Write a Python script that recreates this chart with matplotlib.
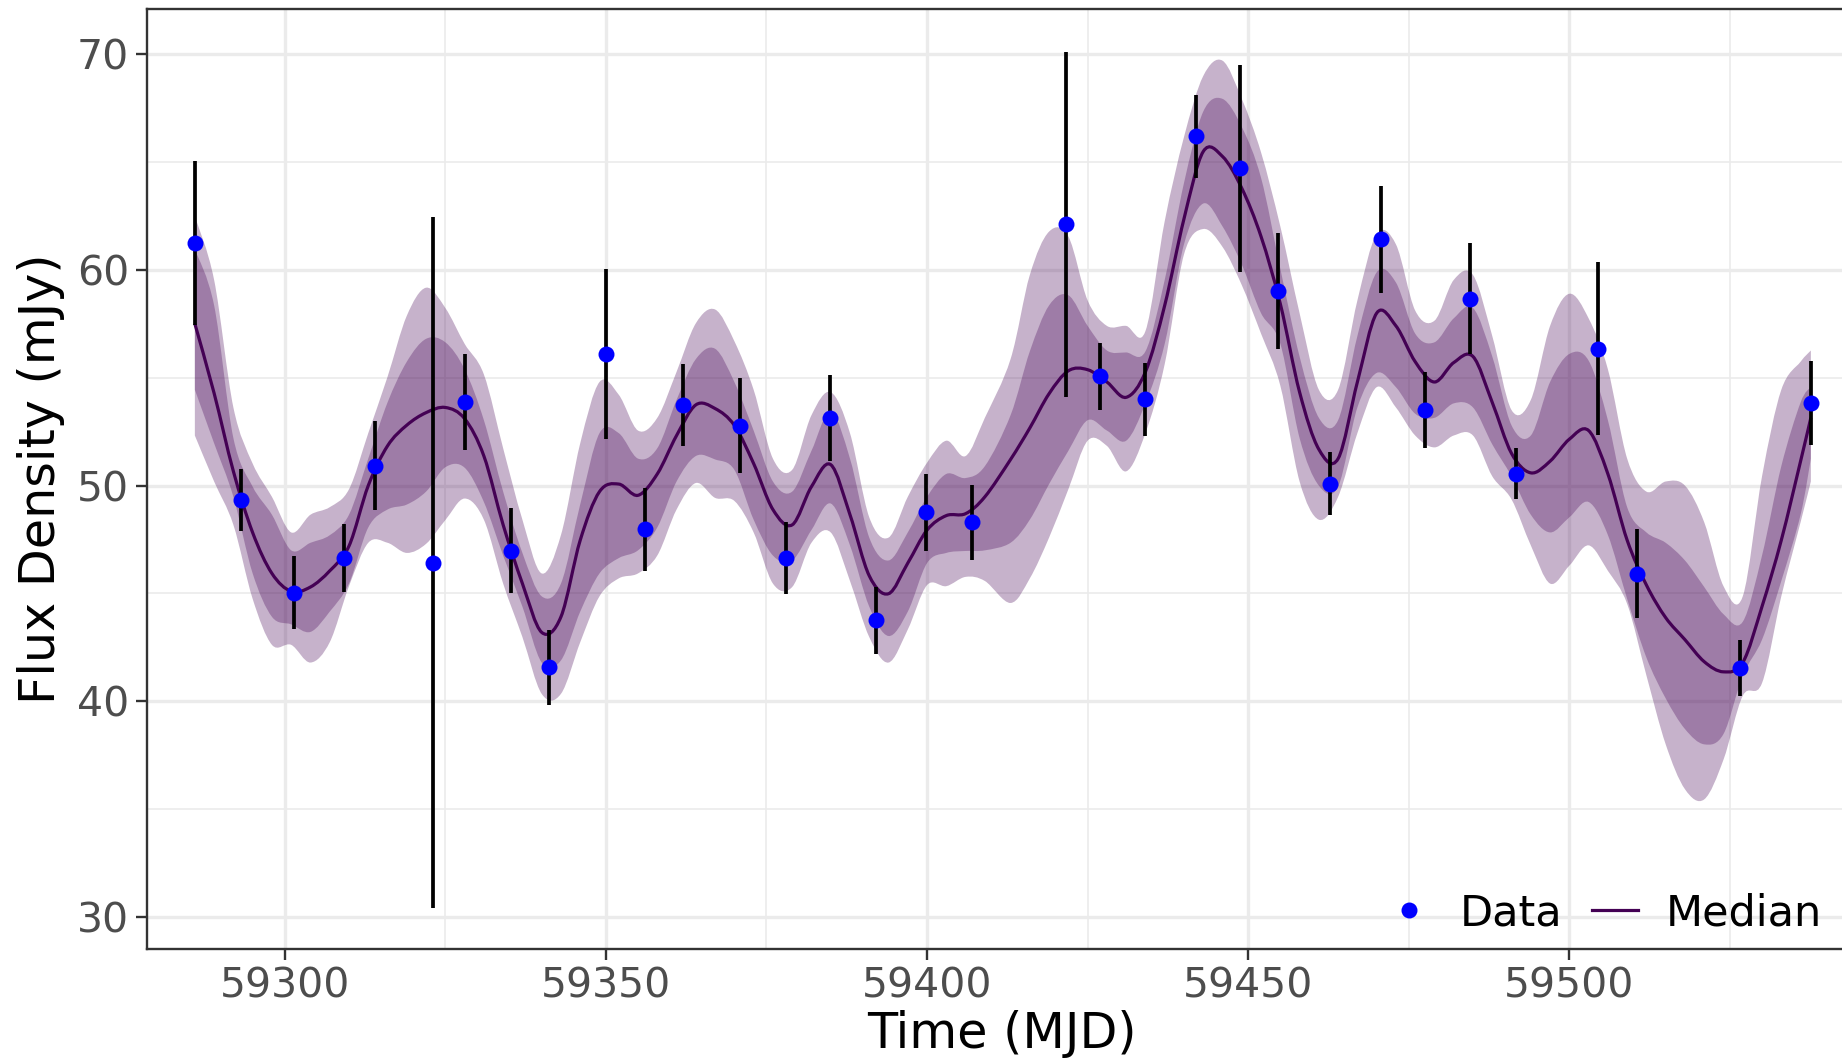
import matplotlib
matplotlib.use("Agg")
import matplotlib.pyplot as plt
from matplotlib.lines import Line2D
from matplotlib.path import Path
from matplotlib.patches import PathPatch
from matplotlib.ticker import MultipleLocator

# ---------------- data ----------------
obs_mjd = [59286.1, 59293.2, 59301.4, 59309.2, 59314.1, 59323.1, 59328.1, 59335.2,
           59341.2, 59350.0, 59356.1, 59362.0, 59370.9, 59378.0, 59384.9, 59392.1,
           59399.9, 59407.0, 59421.7, 59426.9, 59433.9, 59441.9, 59448.7, 59454.7,
           59462.7, 59470.6, 59477.6, 59484.5, 59491.7, 59504.5, 59510.5, 59526.6,
           59537.6]
obs_flux = [61.25, 49.33, 45.04, 46.64, 50.93, 46.43, 53.86, 46.99,
            41.58, 56.10, 47.98, 53.72, 52.78, 46.64, 53.13, 43.76,
            48.77, 48.29, 62.11, 55.06, 53.99, 66.19, 64.70, 59.02,
            50.08, 61.41, 53.51, 58.65, 50.56, 56.35, 45.92, 41.55,
            53.83]
obs_err = [3.8, 1.44, 1.7, 1.56, 2.05, 16.0, 2.23, 1.95,
           1.75, 3.95, 1.92, 1.9, 2.2, 1.68, 1.98, 1.55,
           1.79, 1.76, 8.0, 1.56, 1.68, 1.93, 4.8, 2.68,
           1.46, 2.49, 1.77, 2.57, 1.2, 4.0, 2.05, 1.28,
           1.95]

model_mjd = [59286, 59289, 59292, 59295, 59298, 59301, 59304, 59307, 59310, 59313, 59316, 59319, 59322,
             59325, 59328, 59331, 59334, 59337, 59340, 59343, 59346, 59349, 59352, 59355, 59358, 59361, 59364,
             59367, 59370, 59373, 59376, 59379, 59382, 59385, 59388, 59391, 59394, 59397, 59400, 59403, 59406, 59409,
             59413, 59416, 59419, 59422, 59425, 59428, 59431, 59434, 59437, 59440, 59443, 59446, 59449, 59452,
             59455, 59458, 59461, 59464, 59467, 59470, 59473, 59476, 59479, 59482, 59485, 59488, 59491, 59494,
             59497, 59500, 59503, 59506, 59509, 59512, 59515, 59518, 59521, 59524, 59527, 59530, 59533, 59536, 59537.6]

median = [57.5, 54.28, 50.66, 47.82, 45.93, 45.1, 45.3, 46.05, 47.2, 50.0, 51.84, 52.8, 53.38,
          53.62, 53.1, 51.37, 48.18, 45.46, 43.2, 43.92, 47.47, 49.72, 50.07, 49.55, 50.54, 52.32, 53.74,
          53.57, 52.79, 51.02, 48.89, 48.18, 49.95, 50.97, 48.65, 45.82, 44.99, 46.41, 47.94, 48.61, 48.7, 49.48,
          51.21, 52.67, 54.26, 55.32, 55.37, 54.8, 54.09, 55.27, 58.35, 62.36, 65.48, 65.25, 63.78, 61.54,
          58.42, 54.33, 51.68, 51.25, 54.8, 57.99, 57.4, 55.74, 54.8, 55.7, 55.98, 53.85, 51.49, 50.59,
          51.13, 52.15, 52.55, 50.54, 47.47, 45.39, 43.88, 42.86, 41.84, 41.37, 41.8, 44.4, 47.47, 51.13, 53.14]

outer_hi = [62.48, 59.53, 53.62, 51.02, 49.48, 47.83, 48.65, 49.0, 49.83, 52.43, 55.04, 57.87, 59.17,
            58.23, 56.57, 55.15, 51.73, 48.42, 45.93, 47.71, 51.96, 54.8, 54.21, 52.55, 53.14, 55.27, 57.52,
            58.16, 56.69, 54.44, 51.25, 50.73, 53.26, 54.33, 52.43, 48.53, 47.59, 49.48, 51.06, 52.08, 51.37, 53.14,
            55.86, 59.76, 61.77, 61.54, 58.58, 57.4, 57.4, 57.16, 62.25, 66.15, 68.98, 69.69, 67.92, 65.44,
            62.01, 57.99, 54.44, 54.44, 58.58, 61.65, 61.18, 58.11, 57.64, 59.53, 59.76, 56.93, 53.5, 53.97,
            57.4, 58.89, 57.75, 55.39, 51.25, 49.72, 50.19, 50.0, 48.3, 45.34, 44.87, 50.43, 54.44, 55.74, 56.26]

inner_hi = [60.95, 58.35, 52.2, 49.95, 48.65, 47.0, 47.35, 47.7, 48.65, 51.25, 53.85, 55.74, 56.8,
            56.64, 55.39, 53.03, 49.72, 46.88, 44.87, 45.46, 49.13, 52.43, 52.43, 51.25, 51.73, 53.97, 55.86,
            56.34, 54.8, 52.55, 50.19, 49.72, 51.61, 53.43, 51.25, 47.59, 46.53, 47.83, 49.48, 50.54, 50.35, 50.9,
            53.26, 56.22, 58.35, 58.82, 57.4, 56.26, 56.17, 56.22, 59.53, 64.02, 67.33, 67.92, 66.62, 64.26,
            60.05, 55.98, 53.14, 53.03, 56.93, 59.88, 59.41, 57.04, 56.64, 57.75, 58.23, 55.98, 52.79, 52.32,
            54.8, 56.1, 55.79, 53.03, 49.0, 47.83, 47.35, 46.53, 45.3, 44.04, 43.69, 46.76, 50.9, 53.85, 54.56]

inner_lo = [54.44, 51.96, 49.48, 45.93, 43.92, 43.57, 43.22, 44.16, 45.46, 48.06, 48.89, 49.12, 49.72,
            50.85, 50.83, 49.24, 46.76, 44.39, 41.8, 41.9, 44.16, 45.93, 46.64, 47.0, 48.06, 50.19, 51.37,
            51.21, 50.73, 48.42, 46.76, 46.53, 47.94, 49.17, 47.23, 44.39, 43.03, 44.16, 46.41, 46.88, 46.97, 47.0,
            47.35, 48.42, 50.07, 51.61, 53.03, 52.55, 52.08, 53.81, 56.57, 61.18, 63.07, 62.01, 60.24, 57.99,
            56.57, 52.2, 50.0, 49.95, 53.62, 55.22, 54.56, 53.33, 53.14, 53.81, 53.62, 51.91, 50.43, 48.65,
            47.83, 48.53, 49.24, 47.71, 44.75, 42.03, 40.14, 38.72, 38.01, 38.49, 41.2, 42.86, 45.58, 48.65, 51.25]

outer_lo = [52.32, 50.19, 48.18, 44.75, 42.62, 42.62, 41.8, 42.74, 45.34, 47.35, 47.35, 46.88, 47.3,
            48.4, 49.4, 48.42, 45.46, 42.98, 40.35, 40.35, 42.74, 44.87, 45.7, 45.93, 46.76, 48.89, 50.12,
            49.43, 49.29, 47.83, 45.46, 45.3, 47.35, 47.83, 45.58, 42.98, 41.8, 43.33, 45.39, 45.34, 45.77, 45.58,
            44.56, 45.7, 47.59, 49.83, 52.08, 51.84, 50.66, 52.43, 55.63, 60.71, 61.89, 61.06, 59.29, 57.04,
            54.63, 50.19, 48.42, 49.48, 52.43, 54.56, 53.62, 52.32, 51.77, 52.32, 52.32, 50.43, 49.36, 47.23,
            45.46, 46.29, 47.23, 46.05, 44.52, 41.2, 38.01, 35.93, 35.46, 37.3, 40.26, 40.85, 44.87, 48.3, 50.19]

x_ticks = [59300, 59350, 59400, 59450, 59500]
y_ticks = [30, 40, 50, 60, 70]


# ---- smooth (Bezier) path through the read vertices; the curve passes through them ----
def bezier_segments(xs, ys):
    n = len(xs)
    verts, codes = [], []
    for i in range(n - 1):
        x0, y0 = xs[i], ys[i]
        x1, y1 = xs[i + 1], ys[i + 1]
        xm, ym = (xs[i - 1], ys[i - 1]) if i > 0 else (x0, y0)
        xp, yp = (xs[i + 2], ys[i + 2]) if i + 2 < n else (x1, y1)
        c1 = (x0 + (x1 - xm) / 6.0, y0 + (y1 - ym) / 6.0)
        c2 = (x1 - (xp - x0) / 6.0, y1 - (yp - y0) / 6.0)
        verts += [c1, c2, (x1, y1)]
        codes += [Path.CURVE4] * 3
    return verts, codes


def smooth_line_path(xs, ys):
    v, c = bezier_segments(xs, ys)
    return Path([(xs[0], ys[0])] + v, [Path.MOVETO] + c)


def smooth_band_path(xs, lo, hi):
    v1, c1 = bezier_segments(xs, hi)
    rx, rlo = xs[::-1], lo[::-1]
    v2, c2 = bezier_segments(rx, rlo)
    verts = [(xs[0], hi[0])] + v1 + [(rx[0], rlo[0])] + v2 + [(xs[0], hi[0])]
    codes = [Path.MOVETO] + c1 + [Path.LINETO] + c2 + [Path.CLOSEPOLY]
    return Path(verts, codes)


# ---------------- figure ----------------
W, H = 1842, 1061
fig = plt.figure(figsize=(W / 100, H / 100), dpi=100)
ax = fig.add_axes([147 / W, 1 - 948.5 / H, (W - 147) / W, (948.5 - 9.3) / H])

band_col = "#440154"
ax.add_patch(PathPatch(smooth_band_path(model_mjd, outer_lo, outer_hi),
                       facecolor=band_col, alpha=0.3, edgecolor="none", zorder=2))
ax.add_patch(PathPatch(smooth_band_path(model_mjd, inner_lo, inner_hi),
                       facecolor=band_col, alpha=0.3, edgecolor="none", zorder=2))
ax.add_patch(PathPatch(smooth_line_path(model_mjd, median), facecolor="none",
                       edgecolor=band_col, lw=2.3, zorder=3))
ax.errorbar(obs_mjd, obs_flux, yerr=obs_err, fmt="none", ecolor="black",
            elinewidth=2.7, capsize=0, zorder=4)
ax.plot(obs_mjd, obs_flux, "o", color="blue", markersize=11.5, markeredgewidth=0, zorder=5)

ax.set_xlim(59278.55, 59542.45)
ax.set_ylim(28.55, 72.07)
ax.set_xticks(x_ticks)
ax.set_yticks(y_ticks)
ax.xaxis.set_minor_locator(MultipleLocator(25))
ax.yaxis.set_minor_locator(MultipleLocator(5))

ax.set_axisbelow(True)
ax.grid(which="major", color="#EBEBEB", linewidth=2.4)
ax.grid(which="minor", color="#EBEBEB", linewidth=1.2)

ax.tick_params(which="major", length=7.8, width=1.7, color="#333333",
               labelsize=29.5, labelcolor="#4D4D4D", pad=5)
ax.tick_params(which="minor", length=0)

for s in ["left", "bottom", "top"]:
    ax.spines[s].set_color("#333333")
    ax.spines[s].set_linewidth(1.7)
ax.spines["right"].set_visible(False)

ax.set_xlabel("Time (MJD)", fontsize=35.5, color="black")
ax.set_ylabel("Flux Density (mJy)", fontsize=35.5, color="black")
ax.xaxis.set_label_coords((1002 - 147) / (W - 147), -0.066)
ax.yaxis.set_label_coords(-0.0485, 0.5)

handles = [Line2D([], [], marker="o", ls="none", color="blue", markersize=11.5, markeredgewidth=0),
           Line2D([], [], color=band_col, lw=2.3)]
fig.legend(handles, ["Data", "Median"], ncol=2, frameon=False, fontsize=31,
           handlelength=1.065, handletextpad=0.656, columnspacing=0.68,
           borderpad=0, borderaxespad=0, loc="center right",
           bbox_to_anchor=(1822 / W, 1 - 913 / H), bbox_transform=fig.transFigure)

fig.savefig("out.png", dpi=100)
